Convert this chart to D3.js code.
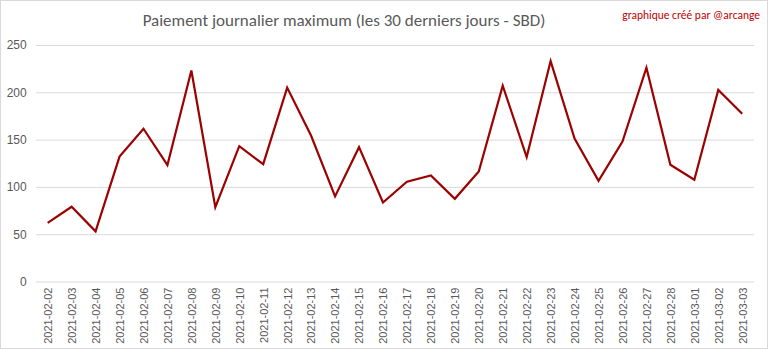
<!DOCTYPE html>
<html><head><meta charset="utf-8">
<script src="https://cdn.jsdelivr.net/npm/d3@7"></script>
<style>
html,body{margin:0;padding:0;background:#fff;}
svg{display:block;font-family:Carlito,"Open Sans","Liberation Sans",sans-serif;}
</style></head>
<body>
<svg id="chart" width="768" height="349"></svg>
<script>
const dates = ["2021-02-02","2021-02-03","2021-02-04","2021-02-05","2021-02-06","2021-02-07","2021-02-08","2021-02-09","2021-02-10","2021-02-11","2021-02-12","2021-02-13","2021-02-14","2021-02-15","2021-02-16","2021-02-17","2021-02-18","2021-02-19","2021-02-20","2021-02-21","2021-02-22","2021-02-23","2021-02-24","2021-02-25","2021-02-26","2021-02-27","2021-02-28","2021-03-01","2021-03-02","2021-03-03"];
const values = [62,79,53,132,161.5,123,223,78.6,143,124,205,154,90,142,83.5,105.4,112,87.4,116.3,207,131.5,233,151,106.5,148,226,123.4,107.5,202.5,177.4];
const yTicks = [0,50,100,150,200,250];
const title = "Paiement journalier maximum (les 30 derniers jours - SBD)";
const credit = "graphique créé par @arcange";

const svg = d3.select("#chart");
const W = 768, H = 349;
svg.append("rect").attr("x",0.5).attr("y",0.5).attr("width",W-1).attr("height",H-1)
  .attr("fill","#fff").attr("stroke","#d9d9d9");

const x = d3.scalePoint().domain(dates).range([35.7,754.2]).padding(0.5);
const y = d3.scaleLinear().domain([0,250]).range([281.5,45]);

// gridlines
const gy = svg.append("g").attr("transform","translate(35.7,0)")
  .call(d3.axisLeft(y).tickValues(yTicks).tickSize(-(754.2-35.7)).tickPadding(9).tickFormat(d3.format("d")));
gy.select(".domain").remove();
gy.selectAll(".tick line").attr("stroke","#d9d9d9").attr("stroke-width",1);
gy.selectAll(".tick text").attr("fill","#595959").style("font-size","12px").style("font-family",null);

// x axis
const gx = svg.append("g").attr("transform","translate(0,281.5)")
  .call(d3.axisBottom(x).tickSize(0).tickPadding(6));
gx.select(".domain").remove();
gx.selectAll(".tick text")
  .attr("transform","rotate(-90)")
  .attr("text-anchor","end")
  .attr("dy","0.35em")
  .attr("x",-6).attr("y",0)
  .attr("fill","#595959").style("font-size","11px").style("font-family",null);

// line
const line = d3.line().x((d,i)=>x(dates[i])).y(d=>y(d));
svg.append("path").datum(values).attr("d",line)
  .attr("fill","none").attr("stroke","#9c0000").attr("stroke-width",2.2)
  .attr("stroke-linejoin","miter");

svg.append("text").attr("x",344).attr("y",26).attr("text-anchor","middle")
  .attr("fill","#595959").style("font-size","17px").text(title);
svg.append("text").attr("x",760).attr("y",19).attr("text-anchor","end")
  .attr("fill","#c00000").style("font-size","11.5px").text(credit);
</script>
</body></html>
